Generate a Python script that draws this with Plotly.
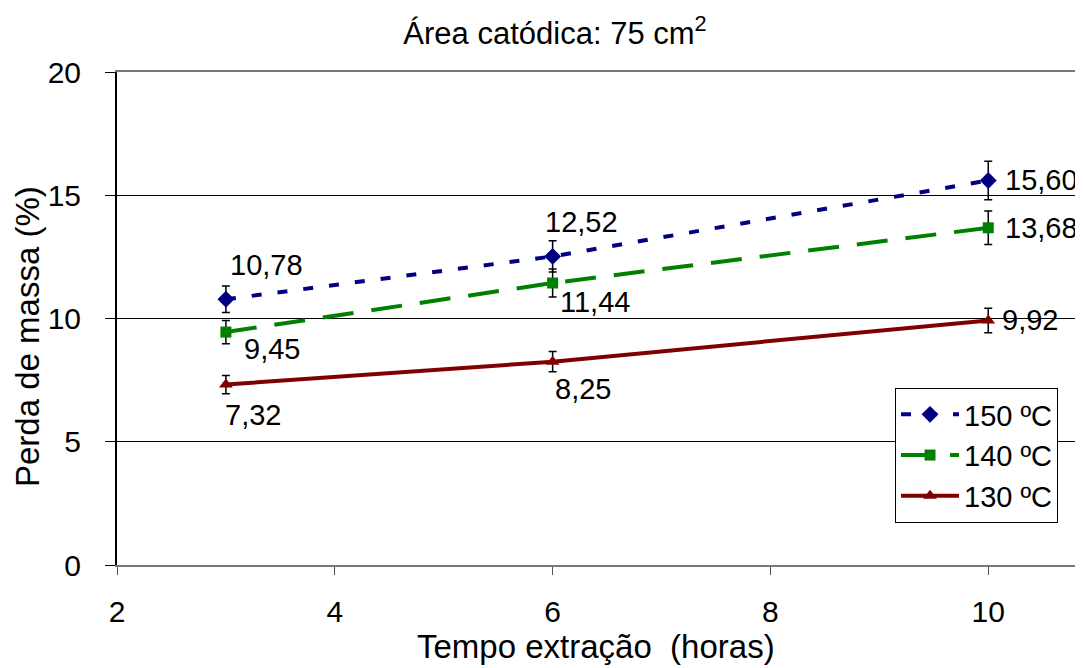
import plotly.graph_objects as go

tempo = [3, 6, 10]
series_names = ["150 ºC", "140 ºC", "130 ºC"]
perda_150 = [10.78, 12.52, 15.60]
perda_140 = [9.45, 11.44, 13.68]
perda_130 = [7.32, 8.25, 9.92]
erro_150 = [0.54, 0.63, 0.78]
erro_140 = [0.47, 0.57, 0.68]
erro_130 = [0.37, 0.41, 0.50]
labels_150 = ["10,78", "12,52", "15,60"]
labels_140 = ["9,45", "11,44", "13,68"]
labels_130 = ["7,32", "8,25", "9,92"]
x_ticks = [2, 4, 6, 8, 10]
y_ticks = [0, 5, 10, 15, 20]

FONT = "Liberation Sans, Arial, sans-serif"

# page has an 8px body margin: figure coordinates = page coordinates - 8
W, H = 1075, 660
L, T, B = 109, 64, 103
PW, PH = W - L, H - T - B

styles = [
    dict(color="#000080", dash="10px,16px", symbol="diamond", msize=13),
    dict(color="#008000", dash="31px,18px", symbol="square", msize=11),
    dict(color="#800000", dash="solid", symbol="triangle-up", msize=12),
]
values = [perda_150, perda_140, perda_130]
errors = [erro_150, erro_140, erro_130]
labels = [labels_150, labels_140, labels_130]
# per-point label offsets (xshift, yshift) in px
offsets = [
    [(2, 34), (-10, 34), (15, 0)],
    [(16, -17), (5, -19), (15, 0)],
    [(-3, -30), (0, -27), (12, 0)],
]

fig = go.Figure()
for name, vals, errs, st in zip(series_names, values, errors, styles):
    fig.add_trace(go.Scatter(
        x=tempo, y=vals, name=name, mode="lines+markers",
        line=dict(color=st["color"], width=4, dash=st["dash"]),
        marker=dict(symbol=st["symbol"], size=st["msize"], color=st["color"]),
        error_y=dict(type="data", array=errs, visible=True, color="black",
                     thickness=1.5, width=4),
    ))

for vals, labs, offs in zip(values, labels, offsets):
    for xv, yv, lab, (dx, dy) in zip(tempo, vals, labs, offs):
        fig.add_annotation(x=xv, y=yv, text=lab, showarrow=False,
                           xanchor="left", yanchor="middle",
                           xshift=dx, yshift=dy,
                           font=dict(family=FONT, size=29, color="black"))

# axis titles as paper annotations (page coords -> figure coords)
fig.add_annotation(text="Tempo extração  (horas)", xref="paper", yref="paper",
                   x=(596 - 8 - L) / PW, y=-(646 - 8 - (T + PH)) / PH, showarrow=False,
                   xanchor="center", yanchor="middle",
                   font=dict(family=FONT, size=33, color="black"))
fig.add_annotation(text="Perda de massa (%)", xref="paper", yref="paper",
                   x=-(L - (27 - 8)) / PW, y=(T + PH - (337 - 8)) / PH, showarrow=False,
                   xanchor="center", yanchor="middle", textangle=-90,
                   font=dict(family=FONT, size=33, color="black"))

fig.update_layout(
    width=W, height=H,
    margin=dict(l=L, r=0, t=T, b=B, autoexpand=False),
    paper_bgcolor="white", plot_bgcolor="white",
    font=dict(family=FONT, color="black"),
    title=dict(text="Área catódica: 75 cm<sup>2</sup>", x=(555 - 8) / W, xanchor="center",
               y=1 - 25 / H, yanchor="middle", font=dict(size=31, family=FONT)),
    legend=dict(x=(895 - 8 - L) / PW, y=(T + PH - (388 - 8)) / PH, xanchor="left", yanchor="top",
                bordercolor="black", borderwidth=1, bgcolor="white",
                font=dict(size=29, family=FONT), tracegroupgap=0, itemwidth=58),
    showlegend=True,
)
fig.update_xaxes(range=[2, 10.87], tickvals=x_ticks, ticks="outside", ticklen=8,
                 tickcolor="#555", showline=True, linecolor="#777", linewidth=1.5,
                 mirror=True, showgrid=False, zeroline=False, automargin=False,
                 tickfont=dict(size=30), ticklabelstandoff=11)
fig.update_yaxes(range=[0, 20], tickvals=y_ticks, ticks="outside", ticklen=10,
                 tickcolor="black", showline=True, linecolor="black", linewidth=2,
                 showgrid=True, gridcolor="black", gridwidth=1, zeroline=False,
                 automargin=False, tickfont=dict(size=30), ticklabelstandoff=18)

fig.write_html("out.html")
